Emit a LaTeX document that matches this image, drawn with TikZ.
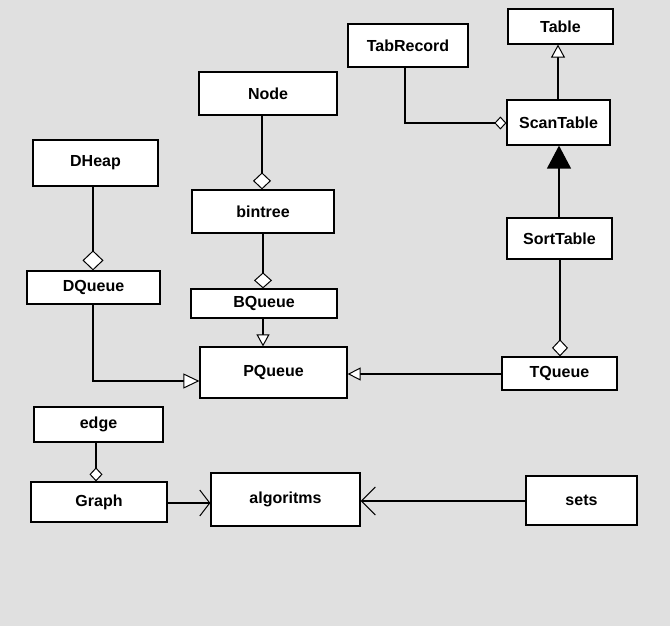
\documentclass[tikz,border=0pt]{standalone}
\usepackage{fontspec}
\setmainfont{Liberation Sans}
\usetikzlibrary{arrows.meta}
\definecolor{bg}{RGB}{224,224,224}
\begin{document}
\begin{tikzpicture}[x=1pt,y=-1pt,
  box/.style={draw=black, fill=white, line width=1.2pt, inner sep=0pt,
    font=\fontsize{16}{18}\selectfont\bfseries},
  conn/.style={draw=black, line width=1.3pt}
]
\fill[bg] (0,0) rectangle (670,626);
\useasboundingbox (0,0) rectangle (670,626);

\node[box, minimum width=105pt, minimum height=35pt] (table) at (560.5,26.5) {Table};
\node[box, minimum width=120pt, minimum height=43pt] (tabrec) at (408,45.5) {TabRecord};
\node[box, minimum width=103pt, minimum height=45pt] (scan) at (558.5,122.5) {ScanTable};
\node[box, minimum width=105pt, minimum height=41pt] (sort) at (559.5,238.5) {SortTable};
\node[box, minimum width=138pt, minimum height=43pt] (node) at (268,93.5) {Node};
\node[box, minimum width=125pt, minimum height=46pt] (dheap) at (95.5,163) {DHeap};
\node[box, minimum width=142pt, minimum height=43pt] (bintree) at (263,211.5) {bintree};
\node[box, minimum width=133pt, minimum height=33pt] (dqueue) at (93.5,287.5) {DQueue};
\node[box, minimum width=146pt, minimum height=29pt] (bqueue) at (264,303.5) {BQueue};
\node[box, minimum width=147pt, minimum height=51pt] (pqueue) at (273.5,372.5) {PQueue};
\node[box, minimum width=115pt, minimum height=33pt] (tqueue) at (559.5,373.5) {TQueue};
\node[box, minimum width=129pt, minimum height=35pt] (edge) at (98.5,424.5) {edge};
\node[box, minimum width=136pt, minimum height=40pt] (graph) at (99,502) {Graph};
\node[box, minimum width=149pt, minimum height=53pt] (algo) at (285.5,499.5) {algoritms};
\node[box, minimum width=111pt, minimum height=49pt] (sets) at (581.5,500.5) {sets};

\coordinate (c1) at (405,123);
\coordinate (c2) at (93,381);

% ScanTable -> Table
\draw[conn, -{Triangle[fill=white, line width=1pt, length=13pt, width=14pt]}] (scan.north -| 558,0) -- (table.south -| 558,0);
% TabRecord -> ScanTable (aggregation)
\draw[conn, -{Diamond[fill=white, line width=1pt, length=12pt, width=13pt]}]
  (tabrec.south -| c1) -- (c1) -- (scan.west |- c1);
% SortTable -> ScanTable (filled)
\draw[conn, -{Triangle[fill=black, length=23pt, width=24pt]}] (sort.north -| 559,0) -- (scan.south -| 559,0);
% SortTable -> TQueue
\draw[conn, -{Diamond[fill=white, line width=1pt, length=17pt, width=16pt]}] (sort.south -| 560,0) -- (tqueue.north -| 560,0);
% Node -> bintree
\draw[conn, -{Diamond[fill=white, line width=1pt, length=17pt, width=18pt]}] (node.south -| 262,0) -- (bintree.north -| 262,0);
% DHeap -> DQueue
\draw[conn, -{Diamond[fill=white, line width=1pt, length=20pt, width=21pt]}] (dheap.south -| 93,0) -- (dqueue.north -| 93,0);
% bintree -> BQueue
\draw[conn, -{Diamond[fill=white, line width=1pt, length=16pt, width=18pt]}] (bintree.south -| 263,0) -- (bqueue.north -| 263,0);
% BQueue -> PQueue
\draw[conn, -{Triangle[fill=white, line width=1pt, length=12pt, width=13pt]}] (bqueue.south -| 263,0) -- (pqueue.north -| 263,0);
% DQueue -> PQueue
\draw[conn, -{Triangle[fill=white, line width=1pt, length=16pt, width=15pt]}] (dqueue.south -| c2) -- (c2) -- (pqueue.west |- c2);
% TQueue -> PQueue
\draw[conn, -{Triangle[fill=white, line width=1pt, length=13pt, width=13pt]}] (tqueue.west |- 0,374) -- (pqueue.east |- 0,374);
% edge -> Graph
\draw[conn, -{Diamond[fill=white, line width=1pt, length=14pt, width=13pt]}] (edge.south -| 96,0) -- (graph.north -| 96,0);
% Graph -> algoritms
\draw[conn, -{Straight Barb[length=10pt, width=26pt, line width=1pt]}] (graph.east |- 0,503) -- (algo.west |- 0,503);
% sets -> algoritms
\draw[conn, -{Straight Barb[length=14pt, width=28pt, line width=1pt]}] (sets.west |- 0,501) -- (algo.east |- 0,501);
\end{tikzpicture}
\end{document}
